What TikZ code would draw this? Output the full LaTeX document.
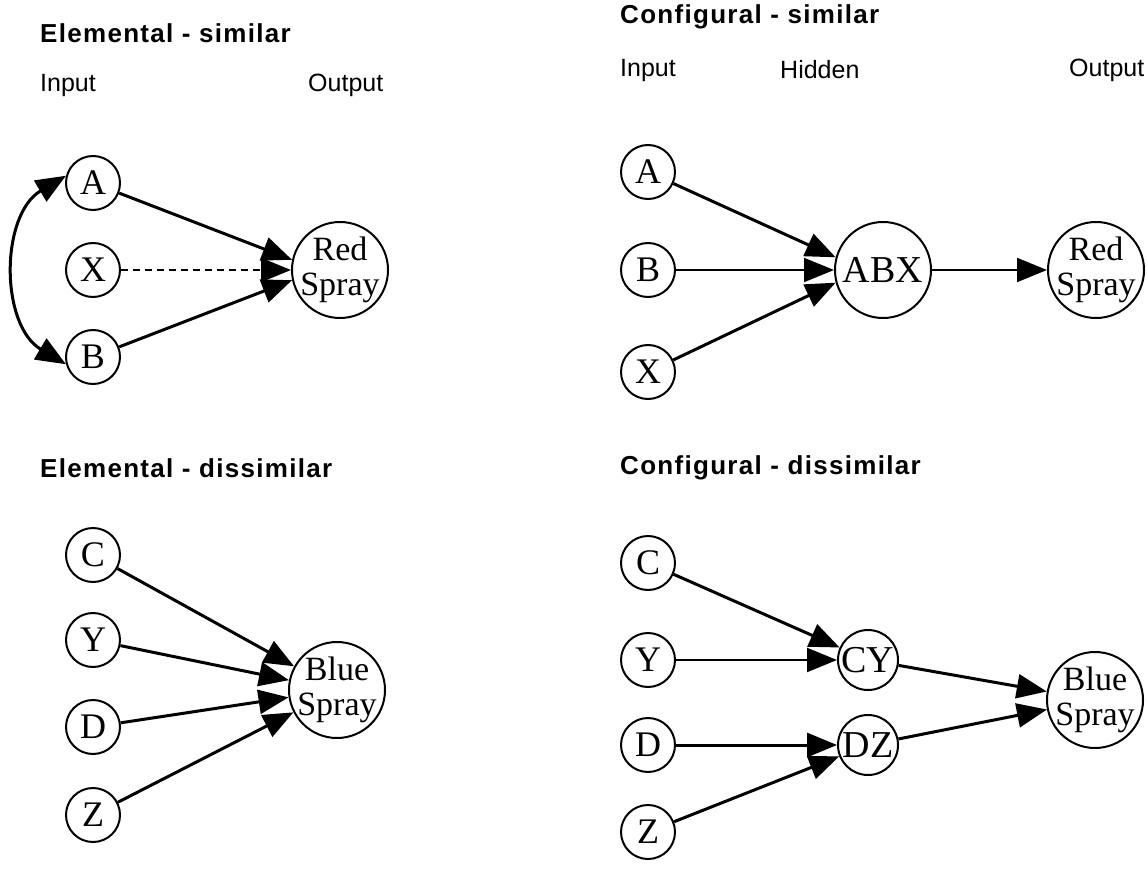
\documentclass[tikz,border=0pt]{standalone}
\usepackage{fontspec}
\setmainfont{Liberation Serif}
\newfontfamily\hel{Liberation Sans}
\newfontfamily\helb[LetterSpace=5]{Liberation Sans Bold}
\usetikzlibrary{arrows.meta}
\begin{document}
\begin{tikzpicture}[x=1pt,y=-1pt,
  sm/.style={circle,draw,line width=2pt,minimum size=54pt,inner sep=0pt,font=\fontsize{36}{36}\selectfont},
  mid/.style={circle,draw,line width=2pt,minimum size=60pt,inner sep=0pt,font=\fontsize{38}{38}\selectfont},
  big/.style={circle,draw,line width=2pt,minimum size=96pt,inner sep=-14pt,align=center,font=\fontsize{34}{35}\selectfont},
  ttl/.style={anchor=west,inner sep=0pt,font=\helb\fontsize{26}{26}\selectfont},
  lbl/.style={anchor=west,inner sep=0pt,font=\hel\fontsize{25}{25}\selectfont},
  tip/.tip={Triangle[length=30pt,width=24pt]},
  arr/.style={line width=3pt,-tip},
  thinarr/.style={line width=2pt,-tip},
  dasharr/.style={line width=2pt,dash pattern=on 7pt off 5pt,-tip},
  dblarr/.style={line width=3pt,tip-tip},
  ]
\useasboundingbox (0,0) rectangle (1147,874);
% ---------- Elemental - similar ----------
\node[ttl] (t1) at (40,33) {Elemental - similar};
\node[lbl] (in1) at (40,85) {Input};
\node[lbl] (out1) at (308,85) {Output};
\node[sm] (A1) at (93,183) {A};
\node[sm] (X1) at (93,270) {X};
\node[sm] (B1) at (93,357) {B};
\node[big] (R1) at (340,270) {Red\\Spray};
\draw[arr] (A1) -- (R1.168);
\draw[dasharr] (X1) -- (R1);
\draw[arr] (B1) -- (R1.192);
\draw[dblarr] (A1.165) .. controls (0,215) and (0,325) .. (B1.195);
% ---------- Configural - similar ----------
\node[ttl] (t2) at (620,17) {Configural - similar};
\node[lbl] (in2) at (620,70) {Input};
\node[lbl] (hid2) at (780,70) {Hidden};
\node[lbl] (out2) at (1069,70) {Output};
\node[sm] (A2) at (648,172) {A};
\node[sm] (B2) at (648,270) {B};
\node[sm] (X2) at (648,372) {X};
\node[big,font=\fontsize{38}{38}\selectfont] (ABX) at (883,270) {ABX};
\node[big] (R2) at (1096,270) {Red\\Spray};
\draw[arr] (A2) -- (ABX.165);
\draw[thinarr] (B2) -- (ABX);
\draw[arr] (X2) -- (ABX.195);
\draw[thinarr] (ABX) -- (R2);
% ---------- Elemental - dissimilar ----------
\node[ttl] (t3) at (40,468) {Elemental - dissimilar};
\node[sm] (C3) at (93,555) {C};
\node[sm] (Y3) at (93,640) {Y};
\node[sm] (D3) at (93,727) {D};
\node[sm] (Z3) at (93,815) {Z};
\node[big] (S3) at (337,690) {Blue\\Spray};
\draw[arr] (C3) -- (S3);
\draw[arr] (Y3) -- (S3);
\draw[arr] (D3) -- (S3);
\draw[arr] (Z3) -- (S3);
% ---------- Configural - dissimilar ----------
\node[ttl] (t4) at (620,468) {Configural - dissimilar};
\node[sm] (C4) at (648,563) {C};
\node[sm] (Y4) at (648,660) {Y};
\node[sm] (D4) at (648,745) {D};
\node[sm] (Z4) at (648,832) {Z};
\node[mid] (CY) at (868,660) {CY};
\node[mid] (DZ) at (868,745) {DZ};
\node[big] (S4) at (1095,700) {Blue\\Spray};
\draw[arr] (C4) -- (CY);
\draw[thinarr] (Y4) -- (CY);
\draw[arr] (D4) -- (DZ);
\draw[arr] (Z4) -- (DZ);
\draw[arr] (CY) -- (S4);
\draw[arr] (DZ) -- (S4);
\end{tikzpicture}
\end{document}
